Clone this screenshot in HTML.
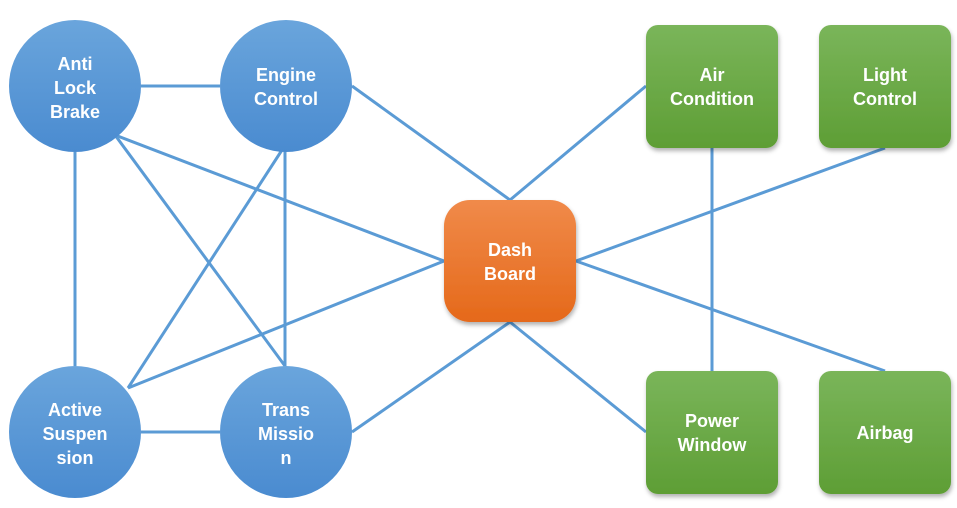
<!DOCTYPE html>
<html><head><meta charset="utf-8"><style>
html,body{margin:0;padding:0;background:#fff;width:957px;height:508px;overflow:hidden}
svg text{font-family:"Liberation Sans",sans-serif;font-weight:bold;font-size:18px;fill:#fff;text-anchor:middle}
</style></head><body>
<svg width="957" height="508" xmlns="http://www.w3.org/2000/svg">
<defs>
<linearGradient id="gb" x1="0" y1="0" x2="0" y2="1"><stop offset="0" stop-color="#6aa5dc"/><stop offset="1" stop-color="#4a8bd0"/></linearGradient>
<linearGradient id="go" x1="0" y1="0" x2="0" y2="1"><stop offset="0" stop-color="#f08a4a"/><stop offset="1" stop-color="#e5691a"/></linearGradient>
<linearGradient id="gg" x1="0" y1="0" x2="0" y2="1"><stop offset="0" stop-color="#7ab55a"/><stop offset="1" stop-color="#5e9e35"/></linearGradient>
<filter id="sh" x="-20%" y="-20%" width="140%" height="140%"><feDropShadow dx="1" dy="3" stdDeviation="2" flood-color="#000" flood-opacity="0.3"/></filter>
</defs>
<g stroke="#5b9bd5" stroke-width="3" fill="none">
<line x1="141" y1="86" x2="220" y2="86"/>
<line x1="75" y1="152" x2="75" y2="366"/>
<line x1="115" y1="135" x2="444" y2="261"/>
<line x1="115" y1="135" x2="285" y2="366"/>
<line x1="285" y1="150" x2="285" y2="366"/>
<line x1="282" y1="150" x2="128" y2="388"/>
<line x1="352" y1="86" x2="510" y2="200"/>
<line x1="128" y1="388" x2="444" y2="261"/>
<line x1="141" y1="432" x2="220" y2="432"/>
<line x1="352" y1="432" x2="510" y2="322"/>
<line x1="510" y1="200" x2="646" y2="86"/>
<line x1="510" y1="322" x2="646" y2="432"/>
<line x1="576" y1="261" x2="885" y2="148"/>
<line x1="576" y1="261" x2="885" y2="371"/>
<line x1="712" y1="148" x2="712" y2="371"/>
</g>
<g fill="url(#gb)">
<circle cx="75" cy="86" r="66"/><circle cx="286" cy="86" r="66"/>
<circle cx="75" cy="432" r="66"/><circle cx="286" cy="432" r="66"/>
</g>
<rect x="444" y="200" width="132" height="122" rx="26" fill="url(#go)" filter="url(#sh)"/>
<g fill="url(#gg)" filter="url(#sh)">
<rect x="646" y="25" width="132" height="123" rx="12"/>
<rect x="819" y="25" width="132" height="123" rx="12"/>
<rect x="646" y="371" width="132" height="123" rx="12"/>
<rect x="819" y="371" width="132" height="123" rx="12"/>
</g>
<text x="75" y="70">Anti</text><text x="75" y="94">Lock</text><text x="75" y="118">Brake</text>
<text x="286" y="81">Engine</text><text x="286" y="105">Control</text>
<text x="75" y="416">Active</text><text x="75" y="440">Suspen</text><text x="75" y="464">sion</text>
<text x="286" y="416">Trans</text><text x="286" y="440">Missio</text><text x="286" y="464">n</text>
<text x="510" y="256">Dash</text><text x="510" y="280">Board</text>
<text x="712" y="81">Air</text><text x="712" y="105">Condition</text>
<text x="885" y="81">Light</text><text x="885" y="105">Control</text>
<text x="712" y="427">Power</text><text x="712" y="451">Window</text>
<text x="885" y="439">Airbag</text>
</svg>
</body></html>
